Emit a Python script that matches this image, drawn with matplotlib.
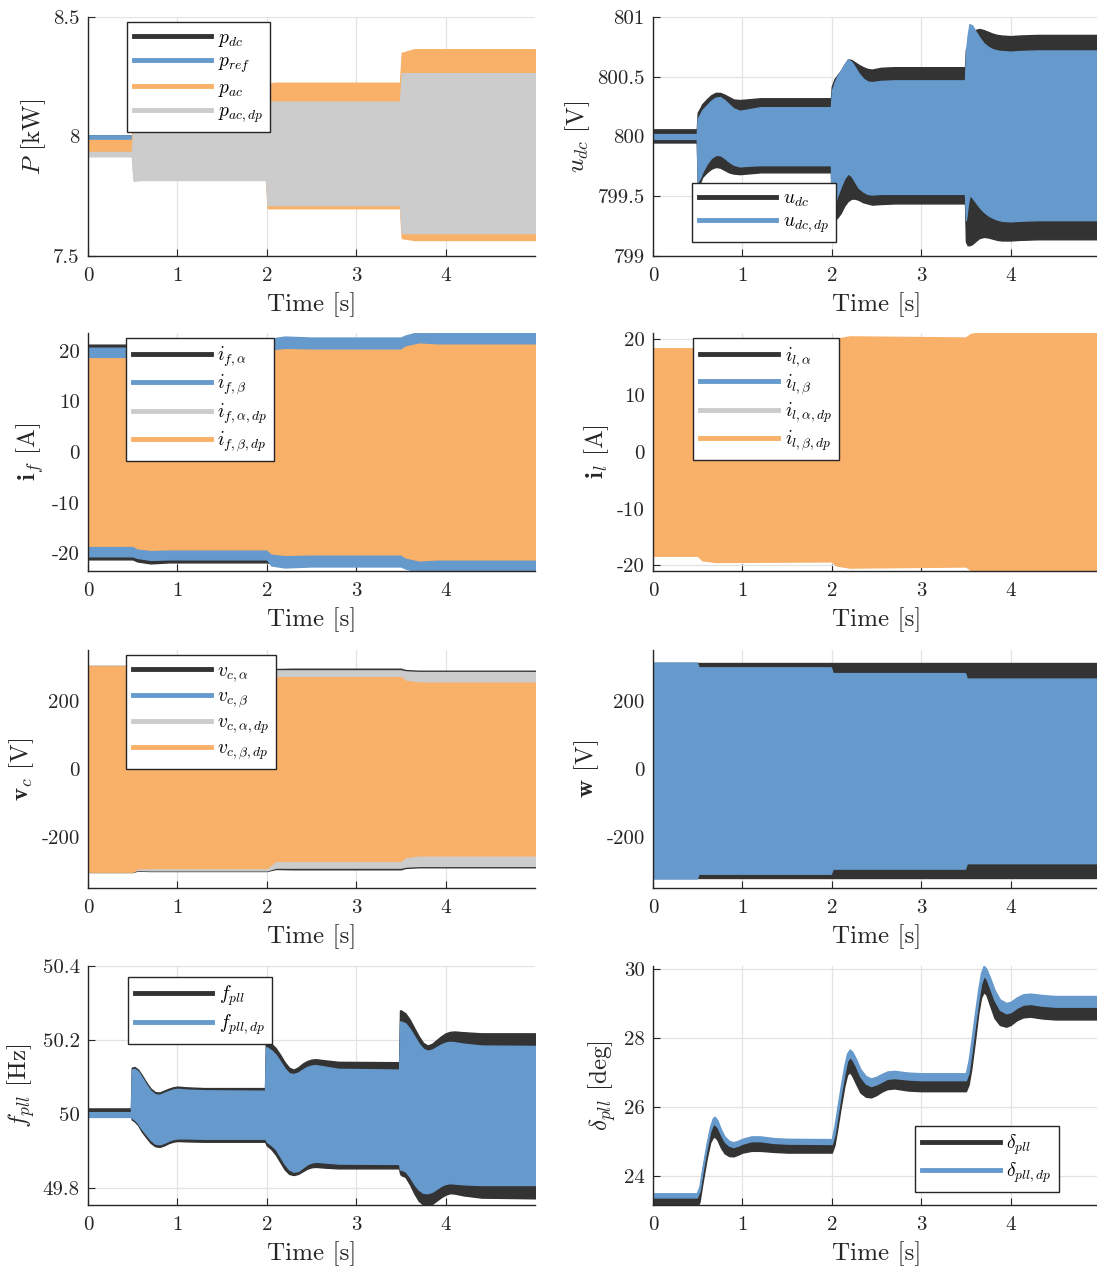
import numpy as np
import matplotlib
matplotlib.use('Agg')
import matplotlib.pyplot as plt
from matplotlib.lines import Line2D
from matplotlib.ticker import FormatStrFormatter

plt.rcParams['font.family'] = 'serif'
plt.rcParams['font.serif'] = ['cmr10']
plt.rcParams['mathtext.fontset'] = 'cm'
plt.rcParams['axes.unicode_minus'] = False

BLK = '#333333'
BLU = '#6699cc'
ORG = '#f9b068'
GRY = '#cccccc'

# ---- power [kW] (band = oscillation envelope: lower / upper) ----
t_p = [0, 0.49, 0.51, 0.6, 1.99, 2.01, 2.1, 3.49, 3.51, 3.65, 5.0]
pdc_lo = [7.995, 7.995, 7.85, 7.85, 7.85, 7.75, 7.75, 7.75, 7.65, 7.65, 7.65]
pdc_hi = [8.005, 8.005, 8.02, 8.02, 8.02, 8.10, 8.10, 8.10, 8.20, 8.20, 8.20]
t_ref = [0, 5.0]
pref = [8.0, 8.0]
pac_lo = [7.935, 7.935, 7.82, 7.82, 7.82, 7.70, 7.70, 7.70, 7.575, 7.567, 7.567]
pac_hi = [7.985, 7.985, 8.10, 8.11, 8.11, 8.22, 8.225, 8.225, 8.35, 8.365, 8.365]
pacdp_lo = [7.917, 7.917, 7.815, 7.818, 7.818, 7.713, 7.713, 7.713, 7.596, 7.596, 7.596]
pacdp_hi = [7.935, 7.935, 8.04, 8.04, 8.04, 8.146, 8.146, 8.146, 8.265, 8.265, 8.265]

# ---- dc voltage [V] ----
t_udc = [0, 0.49,
         0.5, 0.53, 0.55, 0.6, 0.65, 0.7, 0.75, 0.8, 0.85, 0.9, 0.97, 1.05, 1.2,
         1.99, 2.0, 2.03, 2.06, 2.1, 2.14, 2.18, 2.22, 2.26, 2.3, 2.35, 2.4, 2.45, 2.55, 2.7,
         3.49, 3.5, 3.52, 3.54, 3.57, 3.6, 3.65, 3.7, 3.75, 3.8, 3.85, 3.9, 4.0, 4.1, 4.3, 5.0]
udc_hi = [800.06, 800.06,
          800.20, 800.24, 800.27, 800.31, 800.345, 800.365, 800.365, 800.35, 800.33, 800.31,
          800.305, 800.31, 800.32,
          800.32, 800.42, 800.48, 800.51, 800.55, 800.60, 800.645, 800.64, 800.62, 800.60,
          800.58, 800.565, 800.56, 800.575, 800.58,
          800.58, 800.73, 800.76, 800.80, 800.86, 800.89, 800.90, 800.89, 800.875, 800.86,
          800.85, 800.845, 800.84, 800.845, 800.85, 800.85]
udc_lo = [799.95, 799.95,
          799.60, 799.62, 799.66, 799.70, 799.73, 799.745, 799.74, 799.72, 799.70, 799.69,
          799.685, 799.69, 799.70,
          799.70, 799.33, 799.30, 799.32, 799.36, 799.42, 799.46, 799.48, 799.48, 799.47,
          799.45, 799.44, 799.43, 799.435, 799.44,
          799.44, 799.12, 799.09, 799.09, 799.10, 799.12, 799.15, 799.16, 799.155, 799.145,
          799.135, 799.13, 799.13, 799.135, 799.14, 799.14]
udcdp_hi = [800.02, 800.02,
            800.15, 800.19, 800.22, 800.26, 800.30, 800.325, 800.33, 800.305, 800.27, 800.235,
            800.215, 800.225, 800.245,
            800.245, 800.38, 800.45, 800.50, 800.55, 800.60, 800.645, 800.625, 800.58, 800.53,
            800.485, 800.46, 800.455, 800.465, 800.47,
            800.47, 800.70, 800.85, 800.94, 800.93, 800.89, 800.83, 800.78, 800.75, 800.73,
            800.72, 800.715, 800.71, 800.715, 800.72, 800.72]
udcdp_lo = [799.98, 799.98,
            799.62, 799.66, 799.70, 799.77, 799.82, 799.845, 799.845, 799.82, 799.79, 799.765,
            799.75, 799.755, 799.76,
            799.76, 799.36, 799.42, 799.50, 799.58, 799.65, 799.69, 799.67, 799.62, 799.57,
            799.54, 799.52, 799.515, 799.52, 799.52,
            799.52, 799.30, 799.42, 799.51, 799.49, 799.46, 799.41, 799.37, 799.34, 799.32,
            799.305, 799.295, 799.29, 799.295, 799.30, 799.30]

# ---- filter current amplitudes [A] ----
t_if = [0, 0.5, 0.55, 0.7, 0.9, 2.0, 2.05, 2.2, 2.5, 3.5, 3.55, 3.7, 3.9, 5.0]
if_a = [21.2, 21.2, 21.6, 22.0, 21.8, 21.8, 22.0, 22.3, 22.2, 22.2, 22.6, 23.2, 23.0, 23.0]
if_b = [20.6, 20.6, 20.9, 21.3, 21.2, 21.2, 22.4, 22.8, 22.6, 22.6, 23.0, 23.7, 23.5, 23.5]
if_a_dp = [18.0, 18.0, 18.8, 19.0, 18.9, 18.9, 19.8, 20.0, 19.9, 19.9, 20.4, 20.9, 20.8, 20.8]
if_b_dp = [18.5, 18.5, 19.0, 19.3, 19.2, 19.2, 20.0, 20.3, 20.2, 20.2, 20.8, 21.4, 21.2, 21.2]

# ---- load current amplitudes [A] ----
t_il = [0, 0.5, 0.55, 0.7, 2.0, 2.05, 2.2, 3.5, 3.55, 3.7, 4.0, 5.0]
il_a = [18.0, 18.0, 18.8, 19.0, 19.0, 19.7, 20.0, 19.9, 20.5, 21.0, 20.8, 20.8]
il_b = [17.9, 17.9, 18.7, 18.9, 18.9, 19.6, 19.9, 19.8, 20.4, 20.9, 20.7, 20.7]
il_a_dp = [18.1, 18.1, 18.9, 19.1, 19.1, 19.8, 20.1, 20.0, 20.6, 21.1, 20.9, 20.9]
il_b_dp = [18.3, 18.3, 19.1, 19.4, 19.3, 20.0, 20.4, 20.2, 20.8, 21.3, 21.1, 21.1]

# ---- capacitor voltage amplitudes [V] ----
t_vc = [0, 0.5, 0.55, 0.7, 2.0, 2.1, 2.3, 3.5, 3.55, 3.7, 5.0]
vc_a = [303, 303, 299, 300, 300, 294, 295, 295, 291, 289, 289]
vc_b = [296, 296, 286, 286, 286, 265, 265, 265, 254, 249, 249]
vc_a_dp = [301, 301, 297, 298, 298, 290, 290, 290, 287, 285, 285]
vc_b_dp = [302, 302, 292, 291, 291, 270, 270, 270, 259, 254, 254]

# ---- grid voltage [V] ----
t_w = [0, 0.49, 0.51, 1.99, 2.01, 3.49, 3.51, 5.0]
w_hi = [313, 313, 313, 313, 313, 313, 313, 313]
w_lo = [-322, -322, -322, -322, -322, -322, -322, -322]
wdp_hi = [313, 313, 299, 299, 282, 282, 266, 266]
wdp_lo = [-322, -322, -308, -308, -293, -293, -277, -277]

# ---- pll frequency [Hz] ----
t_f = [0,
       0.48, 0.49, 0.52, 0.56, 0.6, 0.65, 0.7, 0.75, 0.8, 0.85, 0.9, 0.95, 1.0, 1.1, 1.3, 1.98,
       1.99, 2.0, 2.05, 2.1, 2.15, 2.2, 2.25, 2.3, 2.35, 2.4, 2.45, 2.5, 2.55, 2.65, 2.8, 3.48,
       3.49, 3.5, 3.55, 3.6, 3.65, 3.7, 3.75, 3.8, 3.85, 3.9, 3.95, 4.0, 4.05, 4.1, 4.2, 4.4, 5.0]
f_hi = [50.015,
        50.015, 50.125, 50.127, 50.12, 50.106, 50.086, 50.069, 50.059, 50.058, 50.063, 50.068,
        50.072, 50.074, 50.072, 50.07, 50.07,
        50.20, 50.198, 50.19, 50.178, 50.16, 50.14, 50.125, 50.12, 50.126, 50.136, 50.143,
        50.147, 50.148, 50.145, 50.141, 50.14,
        50.28, 50.28, 50.272, 50.255, 50.232, 50.21, 50.192, 50.185, 50.19, 50.20, 50.21,
        50.218, 50.222, 50.223, 50.221, 50.218, 50.218]
f_lo = [49.995,
        49.995, 49.985, 49.98, 49.97, 49.953, 49.937, 49.922, 49.913, 49.911, 49.915, 49.921,
        49.925, 49.927, 49.926, 49.925, 49.925,
        49.92, 49.915, 49.905, 49.89, 49.87, 49.85, 49.838, 49.835, 49.838, 49.845, 49.852,
        49.856, 49.857, 49.855, 49.853, 49.853,
        49.84, 49.835, 49.83, 49.81, 49.785, 49.765, 49.755, 49.752, 49.757, 49.766, 49.775,
        49.782, 49.786, 49.785, 49.78, 49.774, 49.772]
fdp_hi = [50.005,
          50.005, 50.12, 50.122, 50.115, 50.10, 50.08, 50.063, 50.053, 50.052, 50.057, 50.062,
          50.066, 50.068, 50.066, 50.064, 50.063,
          50.18, 50.18, 50.172, 50.16, 50.142, 50.123, 50.11, 50.108, 50.112, 50.12, 50.127,
          50.131, 50.132, 50.128, 50.122, 50.12,
          50.25, 50.25, 50.245, 50.23, 50.21, 50.19, 50.176, 50.171, 50.174, 50.181, 50.188,
          50.193, 50.195, 50.194, 50.19, 50.185, 50.184]
fdp_lo = [49.992,
          49.992, 49.99, 49.985, 49.975, 49.96, 49.945, 49.93, 49.92, 49.918, 49.922, 49.928,
          49.932, 49.934, 49.934, 49.933, 49.933,
          49.93, 49.925, 49.916, 49.905, 49.885, 49.865, 49.85, 49.844, 49.846, 49.855, 49.864,
          49.869, 49.871, 49.869, 49.866, 49.865,
          49.85, 49.85, 49.845, 49.83, 49.81, 49.795, 49.787, 49.786, 49.79, 49.798, 49.806,
          49.811, 49.813, 49.812, 49.81, 49.808, 49.808]

# ---- pll angle [deg] ----
t_d = [0, 0.49, 0.52, 0.55, 0.6, 0.64, 0.67, 0.69, 0.72, 0.76, 0.8, 0.85, 0.9, 0.95, 1.0,
       1.1, 1.2, 1.35, 1.5, 2.0,
       2.03, 2.06, 2.1, 2.14, 2.17, 2.2, 2.23, 2.27, 2.32, 2.38, 2.44, 2.5, 2.56, 2.62, 2.7,
       2.85, 3.0, 3.5,
       3.53, 3.56, 3.6, 3.64, 3.67, 3.7, 3.73, 3.77, 3.82, 3.88, 3.95, 4.0, 4.07, 4.14, 4.22,
       4.35, 4.5, 5.0]
ddp_hi = [23.5, 23.5, 23.7, 24.2, 24.95, 25.45, 25.68, 25.72, 25.62, 25.35, 25.15, 25.02,
          24.98, 25.02, 25.08, 25.15, 25.15, 25.1, 25.08, 25.07,
          25.45, 25.95, 26.6, 27.2, 27.55, 27.67, 27.6, 27.4, 27.1, 26.9, 26.83, 26.88, 26.96,
          27.03, 27.05, 27.0, 26.98, 26.98,
          27.35, 27.9, 28.7, 29.45, 29.9, 30.1, 30.0, 29.75, 29.4, 29.12, 29.02, 29.05, 29.18,
          29.27, 29.29, 29.25, 29.22, 29.22]
ddp_lo = [23.38, 23.38, 23.56, 24.06, 24.8, 25.3, 25.5, 25.5, 25.42, 25.2, 25.0, 24.88,
          24.84, 24.88, 24.94, 25.01, 25.01, 24.96, 24.94, 24.93,
          25.2, 25.7, 26.35, 26.95, 27.33, 27.45, 27.38, 27.18, 26.88, 26.68, 26.61, 26.66,
          26.74, 26.82, 26.84, 26.8, 26.78, 26.78,
          27.0, 27.55, 28.35, 29.1, 29.58, 29.8, 29.72, 29.45, 29.1, 28.82, 28.72, 28.75, 28.88,
          28.97, 28.99, 28.94, 28.91, 28.91]
d_hi = [23.42, 23.42, 23.6, 24.1, 24.84, 25.34, 25.54, 25.54, 25.46, 25.24, 25.04, 24.92,
        24.88, 24.92, 24.98, 25.05, 25.05, 25.0, 24.98, 24.97,
        25.24, 25.74, 26.39, 26.99, 27.37, 27.49, 27.42, 27.22, 26.92, 26.72, 26.65, 26.7,
        26.78, 26.86, 26.88, 26.84, 26.82, 26.82,
        27.04, 27.59, 28.39, 29.14, 29.62, 29.84, 29.76, 29.49, 29.14, 28.86, 28.76, 28.79,
        28.92, 29.01, 29.03, 28.98, 28.95, 28.95]
d_lo = [23.1, 23.1, 23.25, 23.75, 24.5, 24.98, 25.12, 25.14, 25.05, 24.82, 24.66, 24.58,
        24.57, 24.62, 24.68, 24.73, 24.73, 24.7, 24.68, 24.68,
        24.9, 25.35, 26.0, 26.6, 26.93, 27.02, 26.9, 26.68, 26.42, 26.3, 26.28, 26.35, 26.45,
        26.52, 26.54, 26.48, 26.46, 26.46,
        26.65, 27.1, 27.9, 28.75, 29.18, 29.34, 29.25, 28.95, 28.58, 28.38, 28.33, 28.38,
        28.52, 28.6, 28.62, 28.57, 28.54, 28.54]


def band(ax, t, lo, hi, color, z):
    ax.fill_between(t, lo, hi, color=color, lw=1.0, edgecolor=color, zorder=z)


def amp(ax, t, a, color, z):
    a = np.array(a)
    band(ax, t, -a, a, color, z)


def style(ax, ylab, ylim, yticks):
    ax.set_xlim(0, 5)
    ax.set_ylim(*ylim)
    ax.set_xticks([0, 1, 2, 3, 4])
    ax.set_yticks(yticks)
    ax.xaxis.set_major_formatter(FormatStrFormatter('%g'))
    ax.yaxis.set_major_formatter(FormatStrFormatter('%g'))
    ax.grid(True, color='#e3e3e3', lw=0.9)
    ax.set_axisbelow(True)
    for s in ['top', 'right']:
        ax.spines[s].set_visible(False)
    for s in ['left', 'bottom']:
        ax.spines[s].set_color('#262626')
        ax.spines[s].set_linewidth(1.0)
        ax.spines[s].set_zorder(3)
    ax.tick_params(direction='in', length=5, labelsize=15, colors='#262626', pad=8)
    ax.tick_params(axis='y', pad=6)
    ax.set_xlabel('Time [s]', fontsize=18, color='#262626', labelpad=5)
    ax.set_ylabel(ylab, fontsize=18, color='#262626', labelpad=4)


def legend(ax, labels, colors, **kw):
    hs = [Line2D([], [], color=c, lw=3.5) for c in colors]
    lg = ax.legend(hs, labels, fontsize=14, handlelength=4.0, handletextpad=0.35,
                   borderpad=0.35, labelspacing=0.2, fancybox=False, framealpha=1,
                   edgecolor='#262626', borderaxespad=0, **kw)
    lg.get_frame().set_linewidth(1.0)
    lg.set_zorder(5)


W, H = 1097, 1268
rows = [(17, 256), (333, 571), (650, 888), (966, 1205)]


def pos(x0, r):
    top, bot = rows[r]
    return [x0 / W, 1 - bot / H, 447 / W, (bot - top) / H]


fig = plt.figure(figsize=(W / 100, H / 100), dpi=100)

# P
ax = fig.add_axes(pos(88, 0))
band(ax, t_p, pdc_lo, pdc_hi, BLK, 1.0)
ax.plot(t_ref, pref, color=BLU, lw=3.5, zorder=1.1)
band(ax, t_p, pac_lo, pac_hi, ORG, 1.2)
band(ax, t_p, pacdp_lo, pacdp_hi, GRY, 1.3)
style(ax, '$P$ [kW]', (7.5, 8.5), [7.5, 8, 8.5])
legend(ax, ['$p_{dc}$', '$p_{ref}$', '$p_{ac}$', '$p_{ac,dp}$'], [BLK, BLU, ORG, GRY],
       loc='upper left', bbox_to_anchor=(0.087, 0.979))

# u_dc
ax = fig.add_axes(pos(653, 0))
band(ax, t_udc, udc_lo, udc_hi, BLK, 1.0)
band(ax, t_udc, udcdp_lo, udcdp_hi, BLU, 1.1)
style(ax, '$u_{dc}$ [V]', (799, 801), [799, 799.5, 800, 800.5, 801])
legend(ax, ['$u_{dc}$', '$u_{dc,dp}$'], [BLK, BLU],
       loc='lower left', bbox_to_anchor=(0.087, 0.059))

# i_f
ax = fig.add_axes(pos(88, 1))
amp(ax, t_if, if_a, BLK, 1.0)
amp(ax, t_if, if_b, BLU, 1.1)
amp(ax, t_if, if_a_dp, GRY, 1.2)
amp(ax, t_if, if_b_dp, ORG, 1.3)
style(ax, r'$\mathbf{i}_f$ [A]', (-23.5, 23.5), [-20, -10, 0, 10, 20])
legend(ax, [r'$i_{f,\alpha}$', r'$i_{f,\beta}$', r'$i_{f,\alpha,dp}$', r'$i_{f,\beta,dp}$'],
       [BLK, BLU, GRY, ORG], loc='upper left', bbox_to_anchor=(0.085, 0.979))

# i_l
ax = fig.add_axes(pos(653, 1))
amp(ax, t_il, il_a, BLK, 1.0)
amp(ax, t_il, il_b, BLU, 1.1)
amp(ax, t_il, il_a_dp, GRY, 1.2)
amp(ax, t_il, il_b_dp, ORG, 1.3)
style(ax, r'$\mathbf{i}_l$ [A]', (-21, 21), [-20, -10, 0, 10, 20])
legend(ax, [r'$i_{l,\alpha}$', r'$i_{l,\beta}$', r'$i_{l,\alpha,dp}$', r'$i_{l,\beta,dp}$'],
       [BLK, BLU, GRY, ORG], loc='upper left', bbox_to_anchor=(0.09, 0.979))

# v_c
ax = fig.add_axes(pos(88, 2))
amp(ax, t_vc, vc_a, BLK, 1.0)
amp(ax, t_vc, vc_b, BLU, 1.1)
amp(ax, t_vc, vc_a_dp, GRY, 1.2)
amp(ax, t_vc, vc_b_dp, ORG, 1.3)
style(ax, r'$\mathbf{v}_c$ [V]', (-350, 350), [-200, 0, 200])
legend(ax, [r'$v_{c,\alpha}$', r'$v_{c,\beta}$', r'$v_{c,\alpha,dp}$', r'$v_{c,\beta,dp}$'],
       [BLK, BLU, GRY, ORG], loc='upper left', bbox_to_anchor=(0.085, 0.979))

# w
ax = fig.add_axes(pos(653, 2))
band(ax, t_w, w_lo, w_hi, BLK, 1.0)
band(ax, t_w, wdp_lo, wdp_hi, BLU, 1.1)
style(ax, r'$\mathbf{w}$ [V]', (-350, 350), [-200, 0, 200])

# f_pll
ax = fig.add_axes(pos(88, 3))
band(ax, t_f, f_lo, f_hi, BLK, 1.0)
band(ax, t_f, fdp_lo, fdp_hi, BLU, 1.1)
style(ax, '$f_{pll}$ [Hz]', (49.754, 50.4), [49.8, 50, 50.2, 50.4])
legend(ax, ['$f_{pll}$', '$f_{pll,dp}$'], [BLK, BLU],
       loc='upper left', bbox_to_anchor=(0.089, 0.954))

# delta_pll
ax = fig.add_axes(pos(653, 3))
band(ax, t_d, d_lo, d_hi, BLK, 1.0)
band(ax, t_d, ddp_lo, ddp_hi, BLU, 1.1)
style(ax, r'$\delta_{pll}$ [deg]', (23.16, 30.09), [24, 26, 28, 30])
legend(ax, [r'$\delta_{pll}$', r'$\delta_{pll,dp}$'], [BLK, BLU],
       loc='lower left', bbox_to_anchor=(0.586, 0.054))

fig.savefig('out.png', dpi=100)
